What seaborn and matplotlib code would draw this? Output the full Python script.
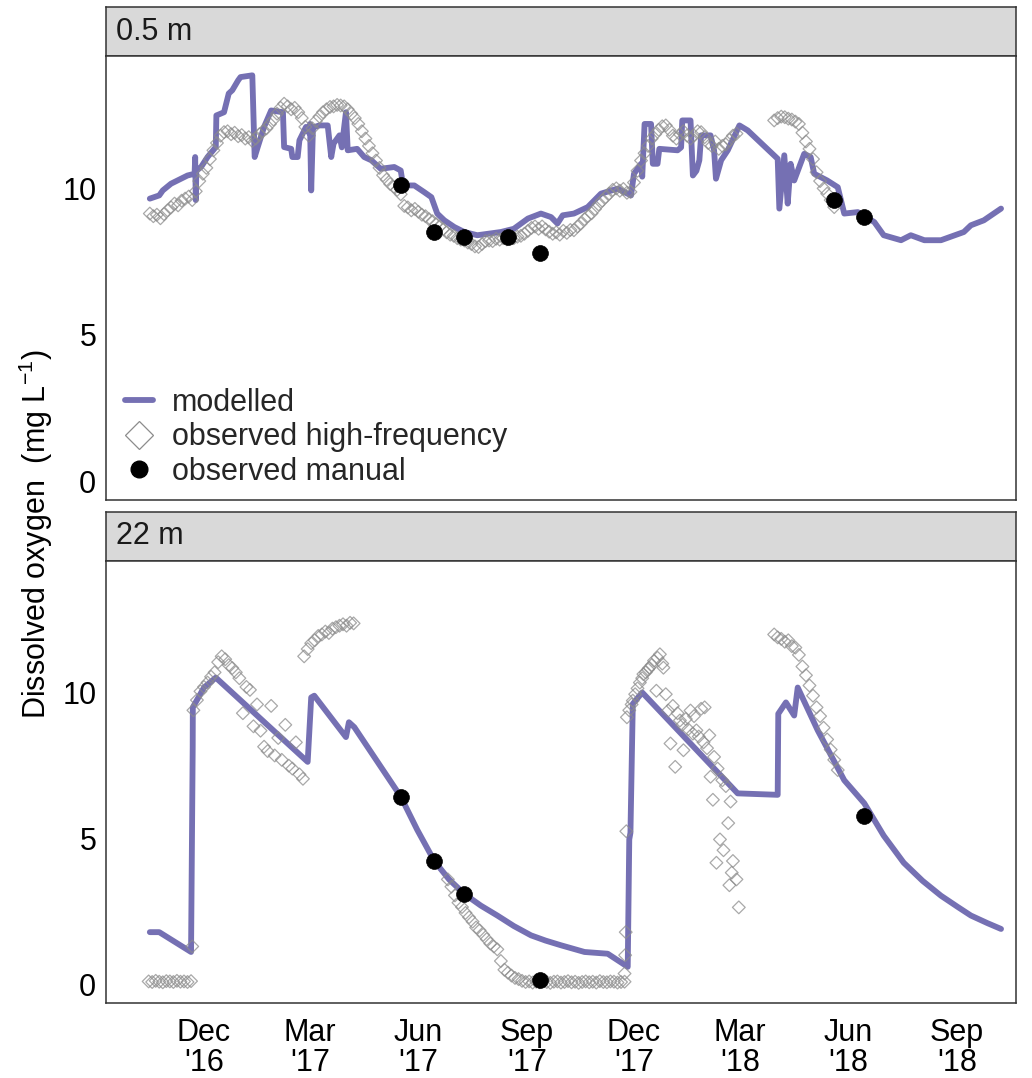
import numpy as np
import pandas as pd
import matplotlib
matplotlib.use("Agg")
import matplotlib.pyplot as plt
import matplotlib.dates as mdates
from matplotlib.lines import Line2D
import seaborn as sns

# ------------------------------------------------------------------
# DATA  (day offsets are days since ORIGIN; values are mg L-1)
# ------------------------------------------------------------------
ORIGIN = "2016-12-01"

panel_labels = ["0.5 m", "22 m"]
legend_labels = ["modelled", "observed high-frequency", "observed manual"]
y_label = "Dissolved oxygen  (mg L$^{-1}$)"

tick_dates = ["2016-12-01", "2017-03-01", "2017-06-01", "2017-09-01",
              "2017-12-01", "2018-03-01", "2018-06-01", "2018-09-01"]
tick_labels = ["Dec\n'16", "Mar\n'17", "Jun\n'17", "Sep\n'17",
               "Dec\n'17", "Mar\n'18", "Jun\n'18", "Sep\n'18"]
y_ticks = [0, 5, 10]

# modelled, 0.5 m
mod_top_day = [-46, -38, -35, -28, -14, -8, -7.5, -7, -6.5, -2.5, 3, 10, 10.5, 17, 21, 24,
               29, 31, 41, 43, 45.6, 51, 57, 67, 68, 74, 75, 79.5, 81, 86.6, 89, 90, 91,
               92.5, 94, 98, 105, 108, 110, 115, 117, 119, 120.5, 122, 130, 136, 142, 150,
               161.5, 167, 169, 178.5, 187, 193, 198, 204, 212.5, 221, 232, 252, 263, 275,
               286, 294.6, 300, 304.5, 314, 325.7, 337, 351, 362.5, 365, 371, 372, 374,
               379.5, 381, 385, 386.5, 402, 405, 406, 413, 415, 418, 420.5, 422, 430, 433,
               434.6, 439, 444.6, 454.5, 461.5, 487, 488.4, 492.6, 495.5, 498, 501, 509.5,
               515, 518, 529, 538, 543.5, 555, 569, 577, 591.7, 600, 611.5, 625.6, 645,
               651, 662, 676.6]
mod_top_val = [9.65, 9.76, 9.93, 10.16, 10.44, 10.50, 11.07, 9.60, 10.60, 10.73, 11.07, 11.41,
               12.49, 12.60, 13.24, 13.35, 13.69, 13.80, 13.86, 11.07, 11.41, 12.10, 12.66,
               12.60, 11.41, 11.35, 11.07, 11.07, 11.64, 12.10, 11.90, 12.20, 9.93, 12.10,
               12.10, 12.15, 12.15, 11.07, 11.53, 11.81, 11.40, 12.10, 12.60, 11.30, 11.35,
               11.07, 10.96, 10.67, 10.73, 10.61, 10.10, 10.10, 9.87, 9.70, 9.14, 8.91, 8.68,
               8.51, 8.40, 8.51, 8.62, 8.97, 9.14, 9.02, 8.80, 9.08, 9.14, 9.36, 9.82, 9.99,
               9.76, 10.50, 10.84, 10.40, 12.20, 12.20, 10.84, 10.84, 11.35, 11.30, 11.40,
               12.32, 12.32, 10.44, 10.60, 10.96, 11.81, 11.81, 11.30, 10.33, 10.96, 11.30,
               12.15, 11.98, 11.01, 9.31, 11.13, 9.48, 10.84, 10.27, 11.18, 11.07, 10.50,
               10.27, 10.04, 9.14, 9.19, 8.85, 8.40, 8.23, 8.40, 8.23, 8.23, 8.51, 8.74,
               8.91, 9.31]

# modelled, 22 m
mod_bot_day = [-46, -38, -11, -9.6, -9.5, 0, 10, 88, 91, 93.6, 120.5, 123, 127.6, 167, 181,
               195.5, 208, 221, 235, 249, 263, 277.6, 290, 303, 323, 342.7, 359.7, 361, 362,
               364, 372, 453, 487, 487.5, 494, 501, 504, 521, 543.5, 560.5, 577, 594, 610,
               625.6, 640, 651, 665, 676.6]
mod_bot_val = [1.79, 1.79, 1.11, 8.14, 9.50, 10.18, 10.52, 7.63, 9.84, 9.90, 8.48, 8.99, 8.82,
               6.44, 5.30, 4.23, 3.60, 3.10, 2.70, 2.36, 2.00, 1.68, 1.50, 1.34, 1.11, 1.05,
               0.60, 4.97, 5.20, 9.62, 10.01, 6.55, 6.50, 9.28, 9.67, 9.22, 10.18, 8.71, 7.00,
               6.21, 5.10, 4.17, 3.55, 3.04, 2.65, 2.36, 2.10, 1.90]

# observed high-frequency, 0.5 m (3-daily records: first day + values)
hf_top_a_first = -46
hf_top_a_val = [9.14, 9.05, 9.10, 8.98, 9.12, 9.25, 9.35, 9.48, 9.42, 9.58,
                9.65, 9.72, 9.60, 9.90, 10.25, 10.50, 10.70, 11.00, 11.30, 11.55,
                11.80, 11.92, 11.95, 11.85, 11.90, 11.78, 11.82, 11.70, 11.75, 11.62,
                11.70, 11.85, 11.95, 12.05, 12.20, 12.35, 12.55, 12.75, 12.89, 12.80,
                12.70, 12.75, 12.60, 12.40, 12.10, 11.80, 12.05, 12.30, 12.45, 12.60,
                12.70, 12.78, 12.80, 12.85, 12.83, 12.80, 12.70, 12.55, 12.40, 12.20,
                11.95, 11.70, 11.45, 11.20, 10.95, 10.70, 10.45, 10.30, 10.15, 10.05,
                9.95, 9.80, 9.40, 9.35, 9.25, 9.30, 9.20, 9.10, 9.05, 8.95,
                8.88, 8.78, 8.70, 8.60, 8.50, 8.42, 8.38, 8.30, 8.25, 8.22,
                8.15, 8.10, 8.02, 8.00, 8.10, 8.20, 8.22, 8.20, 8.28, 8.25,
                8.30, 8.26, 8.32, 8.30, 8.35, 8.38, 8.45, 8.55, 8.65, 8.70,
                8.62, 8.70, 8.60, 8.52, 8.45, 8.50, 8.42, 8.55, 8.48, 8.58,
                8.57, 8.70, 8.80, 8.95, 9.05, 9.15, 9.30, 9.45, 9.58, 9.70,
                9.82, 9.95, 10.00, 9.92, 9.98, 9.85, 9.88, 10.20, 10.60, 10.95,
                11.20, 11.45, 11.70, 11.85, 12.00, 12.12, 12.15, 12.00, 11.80, 11.70,
                11.85, 11.95, 11.80, 11.70, 11.80, 11.95, 11.92, 11.75, 11.55, 11.45,
                11.60, 11.35, 11.45, 11.50, 11.65, 11.80, 11.87]
hf_top_b_first = 484
hf_top_b_val = [12.32, 12.40, 12.45, 12.43, 12.38, 12.35, 12.28, 12.20, 11.90, 11.60,
                11.35, 11.00, 10.55, 10.25, 10.00, 9.82, 9.60, 9.36]

# observed high-frequency, 22 m
hf_bot_a_first = -47
hf_bot_a_val = [0.10, 0.08, 0.12, 0.09, 0.07, 0.11, 0.10, 0.08, 0.12, 0.09, 0.10, 0.08, 0.11]
hf_bot_b_first = -9
hf_bot_b_val = [9.40, 9.75, 10.05, 10.20, 10.35, 10.55, 10.70, 11.05, 11.25, 11.15,
                10.95, 10.85, 10.70, 10.50, 9.30, 10.20, 10.10, 8.85, 9.60, 8.70,
                8.15, 8.00, 9.55, 7.85, 8.45, 7.70, 8.90, 7.50, 7.40, 8.30,
                7.20, 7.05]
hf_bot_c_first = 85
hf_bot_c_val = [11.25, 11.50, 11.70, 11.80, 11.95, 12.00, 12.10, 12.05, 12.20, 12.25,
                12.30, 12.35, 12.30, 12.40, 12.38]
hf_bot_d_first = 207
hf_bot_d_val = [3.60, 3.35, 3.05, 2.80, 2.65, 2.45, 2.30, 2.15, 1.95, 1.85,
                1.70, 1.55, 1.40, 1.30, 1.20, 0.80, 0.50, 0.40, 0.30, 0.22,
                0.18, 0.12, 0.08, 0.10, 0.06, 0.09, 0.07, 0.11, 0.08, 0.05,
                0.09, 0.10, 0.06, 0.08, 0.11, 0.07, 0.09, 0.05, 0.08, 0.10,
                0.07, 0.09, 0.06, 0.11, 0.08, 0.07, 0.10, 0.09, 0.06, 0.08,
                0.09]
hf_bot_e_day = [359, 361, 363, 364, 366, 368, 370, 372, 373, 375,
                377, 378, 380, 382, 384, 385, 387, 389, 390, 392,
                394, 396, 398, 400, 402, 404, 406, 407, 409, 411,
                413, 415, 416, 418, 420, 422, 424, 425, 427, 429,
                430, 432, 433, 435, 436, 438, 440, 441, 443, 445,
                446, 447, 448, 449, 452, 454]
hf_bot_e_val = [9.16, 9.40, 9.60, 9.73, 9.95, 10.15, 10.35, 10.50, 10.64, 10.70,
                10.80, 10.86, 10.95, 11.10, 10.07, 11.20, 11.32, 11.00, 10.86, 9.95,
                9.39, 8.26, 9.55, 7.46, 9.30, 9.05, 8.90, 8.03, 9.10, 8.75,
                9.39, 8.60, 9.20, 8.71, 8.50, 9.45, 8.30, 9.50, 8.10, 8.54,
                7.12, 6.33, 7.80, 4.17, 7.40, 4.97, 7.00, 4.60, 6.80, 5.53,
                3.40, 6.27, 3.83, 4.23, 3.60, 2.64]
hf_bot_f_first = 484
hf_bot_f_val = [12.00, 11.90, 11.85, 11.75, 11.80, 11.60, 11.55, 11.30, 10.90, 10.60,
                10.25, 9.90, 9.50, 9.20, 8.80, 8.40, 8.05, 7.70, 7.35]
hf_bot_x_day = [-10, 357, 357.5, 358, 358.5]
hf_bot_x_val = [1.30, 0.37, 1.00, 1.79, 5.25]

# observed manual
man_top_date = ["2017-05-17", "2017-06-14", "2017-07-10", "2017-08-16", "2017-09-12",
                "2018-05-20", "2018-06-14"]
man_top_val = [10.10, 8.51, 8.34, 8.34, 7.79, 9.59, 9.02]
man_bot_date = ["2017-05-17", "2017-06-14", "2017-07-10", "2017-09-12", "2018-06-14"]
man_bot_val = [6.44, 4.23, 3.10, 0.15, 5.78]

# ------------------------------------------------------------------
# helpers
# ------------------------------------------------------------------
T0 = pd.Timestamp(ORIGIN)


def days_to_dates(days):
    return T0 + pd.to_timedelta(np.asarray(days, dtype=float), unit="D")


def step_series(first, vals, step=3):
    return days_to_dates(first + step * np.arange(len(vals))), np.asarray(vals)


def hf_frame(parts):
    xs, ys = [], []
    for d, v in parts:
        xs.append(pd.Series(d))
        ys.append(pd.Series(v))
    return pd.DataFrame({"date": pd.concat(xs, ignore_index=True),
                         "do": pd.concat(ys, ignore_index=True)})


hf_top = hf_frame([step_series(hf_top_a_first, hf_top_a_val),
                   step_series(hf_top_b_first, hf_top_b_val)])
hf_bot = hf_frame([step_series(hf_bot_a_first, hf_bot_a_val),
                   step_series(hf_bot_b_first, hf_bot_b_val),
                   step_series(hf_bot_c_first, hf_bot_c_val),
                   step_series(hf_bot_d_first, hf_bot_d_val),
                   (days_to_dates(hf_bot_e_day), np.asarray(hf_bot_e_val)),
                   step_series(hf_bot_f_first, hf_bot_f_val),
                   (days_to_dates(hf_bot_x_day), np.asarray(hf_bot_x_val))])

mod_top = pd.DataFrame({"date": days_to_dates(mod_top_day), "do": mod_top_val})
mod_bot = pd.DataFrame({"date": days_to_dates(mod_bot_day), "do": mod_bot_val})
man_top = pd.DataFrame({"date": pd.to_datetime(man_top_date), "do": man_top_val})
man_bot = pd.DataFrame({"date": pd.to_datetime(man_bot_date), "do": man_bot_val})

# ------------------------------------------------------------------
# style
# ------------------------------------------------------------------
sns.set_style("white")
plt.rcParams["font.family"] = ["Liberation Sans", "DejaVu Sans"]
plt.rcParams["mathtext.fontset"] = "custom"
plt.rcParams["mathtext.rm"] = "Liberation Sans"
plt.rcParams["mathtext.it"] = "Liberation Sans:italic"
plt.rcParams["mathtext.default"] = "regular"

PURPLE = "#7570B3"
HF_GRAY = "#8C8C8C"
FRAME = "#333333"
FS = 22

W, H = 1032, 1078
fig = plt.figure(figsize=(W / 100, H / 100), dpi=100)
fig.patch.set_facecolor("white")


def px_axes(l, t, r, b):
    return fig.add_axes([l / W, 1 - b / H, (r - l) / W, (b - t) / H])


XL = (T0 + pd.Timedelta(days=-83.2), T0 + pd.Timedelta(days=689.3))
YL = (-0.64, 14.52)

layout = [((106, 7, 1016, 56), (106, 56, 1016, 500)),
          ((106, 512, 1016, 561), (106, 561, 1016, 1003))]
datasets = [(mod_top, hf_top, man_top), (mod_bot, hf_bot, man_bot)]

axes = []
for i, ((sbox, pbox), (mod, hf, man)) in enumerate(zip(layout, datasets)):
    # strip
    sax = px_axes(*sbox)
    sax.set_facecolor("#D9D9D9")
    sax.set_xticks([])
    sax.set_yticks([])
    for sp in sax.spines.values():
        sp.set_color(FRAME)
        sp.set_linewidth(1.1)
    sax.text(10 / 910, 0.5, panel_labels[i], transform=sax.transAxes,
             ha="left", va="center", fontsize=FS, color="#1A1A1A")

    ax = px_axes(*pbox)
    ax.set_facecolor("white")
    sns.lineplot(data=mod, x="date", y="do", ax=ax, color=PURPLE, lw=4.2,
                 sort=False, estimator=None, legend=False, zorder=2)
    sns.scatterplot(data=hf, x="date", y="do", ax=ax, marker="D", s=42,
                    color=HF_GRAY, facecolor="none", edgecolor=HF_GRAY,
                    linewidth=0.9, alpha=0.75, legend=False, zorder=3)
    sns.scatterplot(data=man, x="date", y="do", ax=ax, marker="o", s=130,
                    color="black", edgecolor="black", linewidth=0.5,
                    legend=False, zorder=4)
    ax.set_xlim(*XL)
    ax.set_ylim(*YL)
    ax.set_yticks(y_ticks)
    ax.set_xticks(pd.to_datetime(tick_dates))
    ax.set_xlabel("")
    ax.set_ylabel("")
    for sp in ax.spines.values():
        sp.set_color(FRAME)
        sp.set_linewidth(1.1)
    ax.tick_params(axis="both", length=4, width=1.0, color=FRAME,
                   labelsize=FS, labelcolor="black", pad=3)
    if i == 0:
        ax.tick_params(axis="x", bottom=False, labelbottom=False)
    else:
        ax.tick_params(axis="x", pad=7)
        ax.set_xticklabels(tick_labels, linespacing=1.0)
    axes.append(ax)

# legend (top panel)
handles = [Line2D([], [], color=PURPLE, lw=4.2),
           Line2D([], [], marker="D", ls="none", mfc="none", mec=HF_GRAY, mew=0.9, ms=14),
           Line2D([], [], marker="o", ls="none", mfc="black", mec="black", ms=12)]
axes[0].legend(handles, legend_labels, loc="upper left",
               bbox_to_anchor=(19 / 910, (500 - 388) / 444), frameon=False,
               fontsize=FS, handlelength=0.9, handletextpad=0.65,
               labelspacing=0.14, borderpad=0, borderaxespad=0)

fig.text(36 / W, 1 - 534 / H, y_label, rotation=90, ha="center", va="center",
         fontsize=FS, color="black")

fig.savefig("out.png", dpi=100, facecolor="white")
